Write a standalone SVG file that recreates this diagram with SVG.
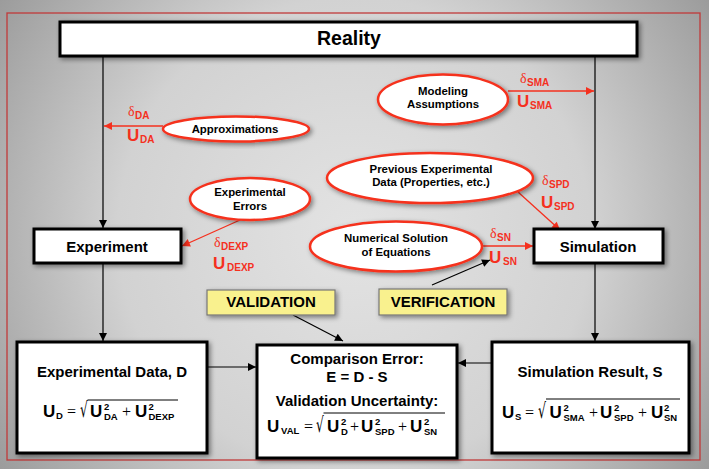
<svg xmlns="http://www.w3.org/2000/svg" width="709" height="469" viewBox="0 0 709 469">
<defs>
<radialGradient id="bg" cx="354" cy="234" r="430" gradientUnits="userSpaceOnUse">
<stop offset="0" stop-color="#e3e3e3"/>
<stop offset="0.55" stop-color="#d2d2d2"/>
<stop offset="1" stop-color="#9a9a9a"/>
</radialGradient>
<filter id="sh" x="-20%" y="-30%" width="140%" height="160%">
<feDropShadow dx="2" dy="2" stdDeviation="2.5" flood-color="#000" flood-opacity="0.45"/>
</filter>
<marker id="ab" viewBox="0 0 10 10" refX="10" refY="5" markerWidth="9" markerHeight="8" markerUnits="userSpaceOnUse" orient="auto">
<path d="M0,0 L10,5 L0,10 z" fill="#000"/>
</marker>
<marker id="ar" viewBox="0 0 10 10" refX="10" refY="5" markerWidth="10" markerHeight="8" markerUnits="userSpaceOnUse" orient="auto">
<path d="M0,0 L10,5 L0,10 z" fill="#f5301e"/>
</marker>
<style>
.box{fill:#fff;stroke:#000;stroke-width:3}
.ell{fill:#fff;stroke:#f5301e;stroke-width:2.5}
.tag{fill:#f9f18e;stroke:#777;stroke-width:1.2}
.t{font-family:"Liberation Sans",Arial,sans-serif;font-weight:bold;fill:#000;text-anchor:middle}
.et{font-size:11.4px}
.bt{font-size:15px}
.c{stroke:#000;stroke-width:1.2;fill:none}
.rc{stroke:#f5301e;stroke-width:1.3;fill:none}
.dl{font-family:"Liberation Serif","DejaVu Serif",serif;font-size:14px;fill:#f5301e}
.ru{font-family:"Liberation Sans",Arial,sans-serif;font-weight:bold;font-size:17px;fill:#f5301e}
.rs{font-family:"Liberation Sans",Arial,sans-serif;font-weight:bold;font-size:10px;fill:#f5301e}
.fu{font-family:"Liberation Sans",Arial,sans-serif;font-weight:bold;font-size:17px;fill:#000}
.fs{font-family:"Liberation Sans",Arial,sans-serif;font-weight:bold;font-size:9.5px;fill:#000}
.fo{font-family:"Liberation Serif","DejaVu Serif",serif;font-size:16px;fill:#000}
.rad{font-family:"DejaVu Sans",sans-serif;font-size:21px;fill:#000}
.ov{stroke:#000;stroke-width:1}
</style>
</defs>
<rect x="0" y="0" width="709" height="469" fill="url(#bg)"/>
<rect x="7" y="13" width="693" height="447" fill="none" stroke="#c03a3a" stroke-width="1.3"/>

<g id="connectors">
<line class="c" x1="103" y1="57" x2="103" y2="228" marker-end="url(#ab)"/>
<line class="c" x1="595" y1="57" x2="595" y2="229" marker-end="url(#ab)"/>
<line class="c" x1="103" y1="264" x2="103" y2="341" marker-end="url(#ab)"/>
<line class="c" x1="595" y1="264" x2="595" y2="341" marker-end="url(#ab)"/>
<line class="c" x1="208" y1="367" x2="256" y2="367" marker-end="url(#ab)"/>
<line class="c" x1="491" y1="363" x2="458" y2="363" marker-end="url(#ab)"/>
<line class="c" x1="293" y1="315" x2="343" y2="341" marker-end="url(#ab)"/>
<line class="c" x1="432" y1="285" x2="490" y2="260" marker-end="url(#ab)"/>
<line class="rc" x1="163" y1="126" x2="104" y2="126" marker-end="url(#ar)"/>
<line class="rc" x1="508" y1="91" x2="594" y2="91" marker-end="url(#ar)"/>
<line class="rc" x1="240" y1="220" x2="182" y2="246" marker-end="url(#ar)"/>
<line class="rc" x1="518" y1="192" x2="560" y2="230" marker-end="url(#ar)"/>
<line class="rc" x1="482" y1="246" x2="533" y2="246" marker-end="url(#ar)"/>
</g>

<g id="reality">
<rect class="box" x="60" y="22" width="577" height="34" filter="url(#sh)"/>
<text class="t" x="349" y="45" font-size="19.5">Reality</text>
</g>

<g id="experiment">
<rect class="box" x="34" y="229" width="147" height="34" filter="url(#sh)"/>
<text class="t bt" x="107" y="252">Experiment</text>
</g>

<g id="simulation">
<rect class="box" x="534" y="229" width="129" height="34" filter="url(#sh)"/>
<text class="t bt" x="598" y="252">Simulation</text>
</g>

<g id="approximations">
<ellipse class="ell" cx="236" cy="129" rx="73" ry="12.5" filter="url(#sh)"/>
<text class="t et" x="235" y="133">Approximations</text>
</g>

<g id="modeling-assumptions">
<ellipse class="ell" cx="443" cy="99.5" rx="65" ry="25" filter="url(#sh)"/>
<text class="t et" x="443" y="95">Modeling</text>
<text class="t et" x="443" y="108">Assumptions</text>
</g>

<g id="experimental-errors">
<ellipse class="ell" cx="250" cy="199" rx="60" ry="21" filter="url(#sh)"/>
<text class="t et" x="250" y="196">Experimental</text>
<text class="t et" x="250" y="210">Errors</text>
</g>

<g id="previous-data">
<ellipse class="ell" cx="430" cy="178" rx="103" ry="25" filter="url(#sh)"/>
<text class="t et" x="431" y="173">Previous Experimental</text>
<text class="t et" x="431" y="186">Data (Properties, etc.)</text>
</g>

<g id="numerical-solution">
<ellipse class="ell" cx="396" cy="246.5" rx="86" ry="25" filter="url(#sh)"/>
<text class="t et" x="396" y="242">Numerical Solution</text>
<text class="t et" x="396" y="256">of Equations</text>
</g>

<g id="validation">
<rect class="tag" x="207" y="290" width="128" height="25" filter="url(#sh)"/>
<text class="t bt" x="271" y="307">VALIDATION</text>
</g>

<g id="verification">
<rect class="tag" x="379" y="289" width="128" height="26" filter="url(#sh)"/>
<text class="t bt" x="443" y="307">VERIFICATION</text>
</g>

<g id="labels">
<text class="dl" x="128" y="116">δ</text><text class="rs" x="135" y="119">DA</text>
<text class="ru" x="127" y="141">U</text><text class="rs" x="140" y="143">DA</text>
<text class="dl" x="520" y="83">δ</text><text class="rs" x="527" y="86">SMA</text>
<text class="ru" x="517" y="107">U</text><text class="rs" x="530" y="109">SMA</text>
<text class="dl" x="542" y="185">δ</text><text class="rs" x="549" y="188">SPD</text>
<text class="ru" x="541" y="208">U</text><text class="rs" x="554" y="210">SPD</text>
<text class="dl" x="214" y="247">δ</text><text class="rs" x="221" y="250">DEXP</text>
<text class="ru" x="213" y="269">U</text><text class="rs" x="227" y="271">DEXP</text>
<text class="dl" x="490" y="238">δ</text><text class="rs" x="497" y="241">SN</text>
<text class="ru" x="489" y="263">U</text><text class="rs" x="503" y="265">SN</text>
</g>

<g id="experimental-data">
<rect class="box" x="17" y="342" width="190" height="111" filter="url(#sh)"/>
<text class="t bt" x="112" y="377">Experimental Data, D</text>
<text class="fu" x="43" y="417">U</text><text class="fs" x="56" y="419">D</text>
<text class="fo" x="67" y="417">=</text>
<text class="rad" transform="translate(80,417) scale(0.58,1)">√</text>
<line class="ov" x1="87.5" y1="400" x2="178" y2="400"/>
<text class="fu" x="90" y="417">U</text><text class="fs" x="104" y="410">2</text><text class="fs" x="104" y="419.5">DA</text>
<text class="fo" x="122" y="417">+</text>
<text class="fu" x="135" y="417">U</text><text class="fs" x="148.5" y="410">2</text><text class="fs" x="148.5" y="419.5">DEXP</text>
</g>

<g id="comparison">
<rect class="box" x="257" y="345" width="200" height="113" filter="url(#sh)"/>
<text class="t bt" x="357" y="364">Comparison Error:</text>
<text class="t bt" x="357" y="382">E = D - S</text>
<text class="t bt" x="357" y="406">Validation Uncertainty:</text>
<text class="fu" x="267" y="432">U</text><text class="fs" x="281" y="434">VAL</text>
<text class="fo" x="304" y="432">=</text>
<text class="rad" transform="translate(316,432) scale(0.58,1)">√</text>
<line class="ov" x1="323.5" y1="413" x2="445" y2="413"/>
<text class="fu" x="327" y="432">U</text><text class="fs" x="341" y="425">2</text><text class="fs" x="341" y="434.5">D</text>
<text class="fo" x="350" y="432">+</text>
<text class="fu" x="361" y="432">U</text><text class="fs" x="375" y="425">2</text><text class="fs" x="375" y="434.5">SPD</text>
<text class="fo" x="398" y="432">+</text>
<text class="fu" x="410" y="432">U</text><text class="fs" x="424" y="425">2</text><text class="fs" x="424" y="434.5">SN</text>
</g>

<g id="simulation-result">
<rect class="box" x="492" y="342" width="197" height="111" filter="url(#sh)"/>
<text class="t bt" x="590" y="377">Simulation Result, S</text>
<text class="fu" x="502" y="418">U</text><text class="fs" x="515" y="420">S</text>
<text class="fo" x="525" y="418">=</text>
<text class="rad" transform="translate(538,418) scale(0.6,1)">√</text>
<line class="ov" x1="546" y1="399" x2="680" y2="399"/>
<text class="fu" x="549.5" y="418">U</text><text class="fs" x="563.5" y="411">2</text><text class="fs" x="563.5" y="420.5">SMA</text>
<text class="fo" x="589" y="418">+</text>
<text class="fu" x="600" y="418">U</text><text class="fs" x="614" y="411">2</text><text class="fs" x="614" y="420.5">SPD</text>
<text class="fo" x="638" y="418">+</text>
<text class="fu" x="651" y="418">U</text><text class="fs" x="664" y="411">2</text><text class="fs" x="664" y="420.5">SN</text>
</g>
</svg>
